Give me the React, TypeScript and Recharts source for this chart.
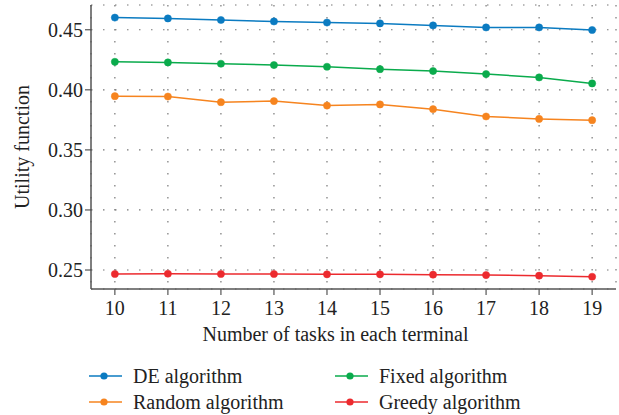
import React from "react";
import { LineChart, Line, XAxis, YAxis, CartesianGrid, Label } from "recharts";

const tasks = [10, 11, 12, 13, 14, 15, 16, 17, 18, 19];
const deValues = [0.4601, 0.4594, 0.4581, 0.4569, 0.456, 0.4553, 0.4536, 0.4519, 0.4519, 0.4498];
const fixedValues = [0.4233, 0.4228, 0.4217, 0.4206, 0.4192, 0.4172, 0.4156, 0.4131, 0.4103, 0.4053];
const randomValues = [0.3947, 0.3944, 0.3897, 0.3906, 0.3869, 0.3878, 0.3839, 0.3778, 0.3758, 0.3747];
const greedyValues = [0.2467, 0.2469, 0.2467, 0.2467, 0.2464, 0.2464, 0.2461, 0.2458, 0.2453, 0.2444];
const yTicks = [0.25, 0.3, 0.35, 0.4, 0.45];

const seriesNames = ["DE algorithm", "Fixed algorithm", "Random algorithm", "Greedy algorithm"];
const colors = ["#0b7bc1", "#0aab4c", "#f6841f", "#ec2a2e"];

const data = tasks.map((t, i) => ({
  t,
  de: deValues[i],
  fixed: fixedValues[i],
  random: randomValues[i],
  greedy: greedyValues[i],
}));

const FONT = "'Liberation Serif', 'DejaVu Serif', serif";
const AXIS = "#555";
const FS = 20;

const LegendItem = ({ color, name, x, y }: { color: string; name: string; x: number; y: number }) => (
  <div style={{ position: "absolute", left: x, top: y - 13, height: 26, display: "flex", alignItems: "center" }}>
    <svg width={36} height={12} style={{ marginRight: 9 }}>
      <line x1={1} y1={6} x2={34} y2={6} stroke={color} strokeWidth={1.5} />
      <circle cx={16} cy={6} r={3.6} fill={color} />
    </svg>
    <span style={{ fontFamily: FONT, fontSize: FS, color: "#222", whiteSpace: "nowrap" }}>{name}</span>
  </div>
);

export default function App() {
  const keys = ["de", "fixed", "random", "greedy"];
  return (
    <div style={{ position: "absolute", left: 0, top: 0, width: 619, height: 415, background: "#fff" }}>
      <LineChart
        width={619}
        height={415}
        data={data}
        margin={{ top: 5, right: 3, left: 0, bottom: 66 }}
      >
        <CartesianGrid stroke="#777" strokeDasharray="1.5 10.5" strokeWidth={1.2} />
        <XAxis
          dataKey="t"
          type="number"
          domain={[9.55, 19.45]}
          ticks={tasks}
          interval={0}
          height={60}
          stroke={AXIS}
          strokeWidth={1.5}
          tickSize={6}
          tickMargin={6}
          tick={{ fill: "#222", fontSize: FS, fontFamily: FONT }}
          tickLine={{ stroke: AXIS, strokeWidth: 1.2 }}
          allowDataOverflow
        >
          <Label
            value="Number of tasks in each terminal"
            position="insideBottom"
            offset={8}
            dx={-18}
            style={{ fill: "#222", fontSize: FS, fontFamily: FONT }}
          />
        </XAxis>
        <XAxis
          xAxisId="top"
          orientation="top"
          dataKey="t"
          type="number"
          domain={[9.55, 19.45]}
          height={0}
          tick={false}
          tickLine={false}
          stroke={AXIS}
          strokeWidth={1.5}
        />
        <YAxis
          type="number"
          domain={[0.2342, 0.4706]}
          ticks={yTicks}
          interval={0}
          width={91}
          stroke={AXIS}
          strokeWidth={1.5}
          tickSize={6}
          tickFormatter={(v: number) => v.toFixed(2)}
          tick={{ fill: "#222", fontSize: FS, fontFamily: FONT }}
          tickLine={{ stroke: AXIS, strokeWidth: 1.2 }}
          allowDataOverflow
        >
          <Label
            value="Utility function"
            angle={-90}
            position="insideLeft"
            offset={22}
            style={{ fill: "#222", fontSize: FS, fontFamily: FONT, textAnchor: "middle" }}
          />
        </YAxis>
        <YAxis
          yAxisId="right"
          orientation="right"
          type="number"
          domain={[0.2342, 0.4706]}
          width={0}
          tick={false}
          tickLine={false}
          stroke={AXIS}
          strokeWidth={1.5}
        />
        {keys.map((k, i) => (
          <Line
            key={k}
            type="linear"
            dataKey={k}
            name={seriesNames[i]}
            stroke={colors[i]}
            strokeWidth={1.5}
            dot={{ r: 3.6, fill: colors[i], stroke: colors[i], strokeWidth: 0.5 }}
            isAnimationActive={false}
          />
        ))}
      </LineChart>
      <LegendItem color={colors[0]} name={seriesNames[0]} x={88} y={376} />
      <LegendItem color={colors[1]} name={seriesNames[1]} x={334} y={376} />
      <LegendItem color={colors[2]} name={seriesNames[2]} x={88} y={402} />
      <LegendItem color={colors[3]} name={seriesNames[3]} x={334} y={402} />
    </div>
  );
}
